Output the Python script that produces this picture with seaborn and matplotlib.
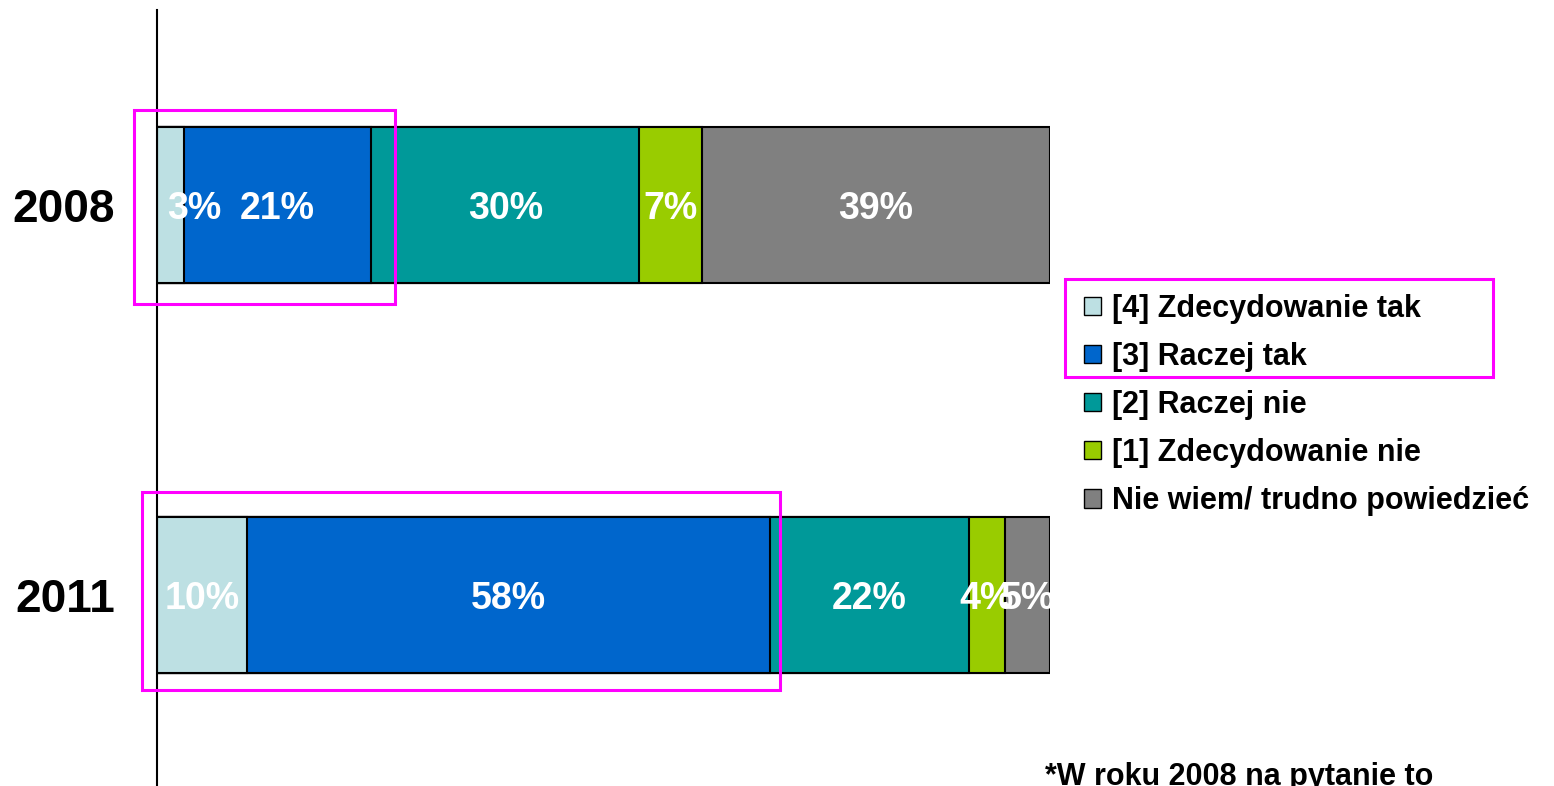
import matplotlib
matplotlib.use("Agg")
import matplotlib.pyplot as plt
from matplotlib.patches import Patch, Rectangle
import seaborn as sns
import numpy as np
import pandas as pd

years = ["2008", "2011"]
categories = ["[4] Zdecydowanie tak", "[3] Raczej tak", "[2] Raczej nie",
              "[1] Zdecydowanie nie", "Nie wiem/ trudno powiedzieć"]
values_2008 = [3, 21, 30, 7, 39]
values_2011 = [10, 58, 22, 4, 5]
colors = ["#BDE0E3", "#0066CC", "#009999", "#99CC00", "#808080"]
footnote = "*W roku 2008 na pytanie to"

sns.set_theme(style="white")
plt.rcParams["font.family"] = ["Liberation Sans", "DejaVu Sans"]
plt.rcParams["font.weight"] = "bold"
plt.rcParams["text.color"] = "black"

W, H = 1554, 786
fig = plt.figure(figsize=(W / 100, H / 100), dpi=100)
ax = fig.add_axes([157 / W, 0, (1050 - 157) / W, 1 - 10 / H])

raw = np.array([values_2008, values_2011], dtype=float)
pct = raw / raw.sum(axis=1, keepdims=True) * 100
cum = np.cumsum(pct, axis=1)

# draw cumulative bars from the longest to the shortest so that segments stack
for k in range(len(categories) - 1, -1, -1):
    df = pd.DataFrame({"year": years, "value": cum[:, k]})
    sns.barplot(data=df, x="value", y="year", orient="h", color=colors[k],
                saturation=1, edgecolor="black", linewidth=1.5, width=0.4,
                errorbar=None, ax=ax)

# value labels
for i, row in enumerate([values_2008, values_2011]):
    for k, v in enumerate(row):
        left = cum[i, k] - pct[i, k]
        center = left + pct[i, k] / 2
        if left == 0 and pct[i, k] < 5:
            x, ha = 1.1, "left"
        else:
            x, ha = center, "center"
        ax.text(x, i + 0.01, f"{v}%", ha=ha, va="center", color="white",
                fontsize=27, fontweight="bold", clip_on=True)

ax.set_xlim(0, 100)
ax.set_ylim(1.49, -0.5)
ax.set_xlabel("")
ax.set_ylabel("")
ax.set_xticks([])
ax.set_yticks([0, 1])
ax.set_yticklabels(years, fontsize=33, fontweight="bold", color="black")
ax.tick_params(axis="y", length=0, pad=30)
for s in ["top", "right", "bottom"]:
    ax.spines[s].set_visible(False)
ax.spines["left"].set_color("black")
ax.spines["left"].set_linewidth(1.5)

# legend
handles = [Patch(facecolor=c, edgecolor="black", linewidth=1) for c in colors]
fig.legend(handles, categories, loc="upper left",
           bbox_to_anchor=(1084 / W, 1 - 294 / H), frameon=False,
           prop={"size": 22, "weight": "bold"}, labelcolor="black",
           handlelength=0.55, handleheight=0.55, handletextpad=0.38,
           labelspacing=0.59, borderpad=0, borderaxespad=0)

# highlight boxes
for (x0, y0, x1, y1) in [(134, 110, 395, 304), (142, 492, 780, 690), (1065, 279, 1493, 377)]:
    fig.patches.append(Rectangle((x0 / W, 1 - y1 / H), (x1 - x0) / W, (y1 - y0) / H,
                                 transform=fig.transFigure, fill=False,
                                 edgecolor="#FF00FF", linewidth=2.2, zorder=10))

fig.text(1045 / W, 0.001, footnote, ha="left", va="baseline", fontsize=22,
         fontweight="bold", color="black")

fig.savefig("out.png", dpi=100)
